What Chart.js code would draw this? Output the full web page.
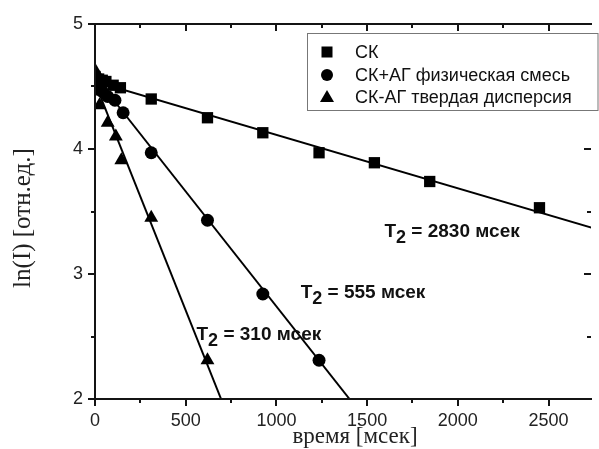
<!DOCTYPE html>
<html><head><meta charset="utf-8">
<script src="https://cdn.jsdelivr.net/npm/chart.js@4/dist/chart.umd.min.js"></script>
<style>html,body{margin:0;padding:0;background:#fff;}#wrap{width:599px;height:449px;position:relative;}</style>
</head><body><div id="wrap"><canvas id="c"></canvas></div>
<script>
// ---- data ----
const seriesNames = ["СК", "СК+АГ физическая смесь", "СК-АГ твердая дисперсия"];
const timeSK  = [0, 20, 40, 60, 100, 140, 310, 620, 925, 1235, 1540, 1845, 2450];
const lnSK    = [4.58, 4.56, 4.55, 4.54, 4.51, 4.49, 4.40, 4.25, 4.13, 3.97, 3.89, 3.74, 3.53];
const timeMix = [0, 20, 40, 70, 110, 155, 310, 620, 925, 1235];
const lnMix   = [4.56, 4.50, 4.46, 4.42, 4.39, 4.29, 3.97, 3.43, 2.84, 2.31];
const timeDisp = [0, 10, 25, 70, 115, 145, 310, 620];
const lnDisp   = [4.63, 4.46, 4.35, 4.21, 4.10, 3.91, 3.45, 2.31];
// fitted lines (end points)
const fitSKx = [0, 2740],  fitSKy = [4.54, 3.37];
const fitMixx = [0, 1403], fitMixy = [4.58, 2.0];
const fitDispx = [0, 695], fitDispy = [4.53, 2.0];
// annotations
const t2Values = ["2830", "555", "310"];
const t2AnchorX = [1590, 1128, 554];
const t2AnchorY = [3.296, 2.808, 2.472];
const xTickValues = [0, 500, 1000, 1500, 2000, 2500];
const yTickValues = [2, 3, 4, 5];
const xMinorStep = 250, yMinorStep = 0.5;
const xTitle = "время [мсек]";
const yTitle = "ln(I) [отн.ед.]";

const pts = (xs, ys) => xs.map((x, i) => ({x: x, y: ys[i]}));

const SANS = "'Liberation Sans', Arial, sans-serif";
const SERIF = "'Liberation Serif', 'Times New Roman', serif";
const AX = 'rgb(20,20,20)';

const dbg = {
  id: 'dbg',
  afterDraw(chart) {
    const ctx = chart.ctx;
    const x = chart.scales.x, y = chart.scales.y;
    const L = Math.round(x.getPixelForValue(x.min)), R = Math.round(x.getPixelForValue(x.max));
    const T = Math.round(y.getPixelForValue(y.max)), B = Math.round(y.getPixelForValue(y.min));
    ctx.save();
    ctx.fillStyle = AX;
    ctx.fillRect(L - 1, T - 1, R - L + 2, 2);
    ctx.fillRect(L - 1, T - 1, 2, B - T + 2);
    ctx.fillRect(L - 1, B - 1, R - L + 2, 2);
    const nx = Math.floor(x.max / xMinorStep);
    for (let k = 0; k <= nx; k++) {
      const px = Math.round(x.getPixelForValue(k * xMinorStep));
      const len = (k % 2 === 0) ? 7 : 4;
      ctx.fillRect(px - 1, B, 2, len);
      ctx.fillRect(px - 1, T, 2, len);
    }
    const ny = Math.round((y.max - y.min) / yMinorStep);
    for (let k = 0; k <= ny; k++) {
      const py = Math.round(y.getPixelForValue(y.min + k * yMinorStep));
      const len = (k % 2 === 0) ? 7 : 4;
      ctx.fillRect(L - len, py - 1, len, 2);
      ctx.fillRect(R - len, py - 1, len, 2);
    }
    ctx.restore();

    // axis titles
    ctx.save();
    ctx.fillStyle = '#222';
    ctx.font = "23px " + SERIF;
    ctx.textAlign = 'center';
    ctx.textBaseline = 'alphabetic';
    ctx.fillText(xTitle, 355, 443);
    ctx.font = "25px " + SERIF;
    ctx.translate(30, 218);
    ctx.rotate(-Math.PI / 2);
    ctx.fillText(yTitle, 0, 0);
    ctx.restore();

    // annotations
    ctx.save();
    ctx.fillStyle = '#111';
    ctx.textBaseline = 'alphabetic';
    ctx.textAlign = 'left';
    t2Values.forEach((val, i) => {
      let px = x.getPixelForValue(t2AnchorX[i]) + 1;
      const py = y.getPixelForValue(t2AnchorY[i]);
      ctx.font = "bold 19px " + SANS;
      ctx.fillText("T", px, py);
      px += ctx.measureText("T").width;
      ctx.font = "bold 18px " + SANS;
      ctx.fillText("2", px, py + 6);
      px += ctx.measureText("2").width;
      ctx.font = "bold 19px " + SANS;
      ctx.fillText(" = " + val + " мсек", px, py);
    });
    ctx.restore();

    // legend
    ctx.save();
    ctx.fillStyle = '#fff';
    ctx.fillRect(307.5, 33.5, 290.5, 77);
    ctx.strokeStyle = '#777';
    ctx.lineWidth = 1;
    ctx.strokeRect(307.5, 33.5, 290.5, 77);
    ctx.fillStyle = '#000';
    const lx = 327, ly = [52, 75, 97];
    ctx.fillRect(lx - 5.5, ly[0] - 5.5, 11, 11);
    ctx.beginPath(); ctx.arc(lx, ly[1], 6, 0, Math.PI * 2); ctx.fill();
    ctx.beginPath();
    ctx.moveTo(lx, ly[2] - 7); ctx.lineTo(lx + 7, ly[2] + 5); ctx.lineTo(lx - 7, ly[2] + 5); ctx.closePath(); ctx.fill();
    ctx.fillStyle = '#111';
    ctx.font = "18px " + SANS;
    ctx.textBaseline = 'middle';
    ctx.textAlign = 'left';
    seriesNames.forEach((n, i) => ctx.fillText(n, 355, ly[i] + 1));
    ctx.restore();
  }
};

const lineDs = (xs, ys) => ({
  data: pts(xs, ys), showLine: true, borderColor: '#000',
  borderWidth: 2, pointRadius: 0, fill: false, order: 2
});
const markDs = (label, xs, ys, style, r) => ({
  label: label, data: pts(xs, ys), pointStyle: style,
  pointRadius: r, backgroundColor: '#000', borderColor: '#000', borderWidth: 0, order: 1
});

new Chart(document.getElementById('c'), {
  type: 'scatter',
  data: {
    datasets: [
      lineDs(fitSKx, fitSKy),
      lineDs(fitMixx, fitMixy),
      lineDs(fitDispx, fitDispy),
      markDs(seriesNames[0], timeSK, lnSK, 'rect', 8),
      markDs(seriesNames[1], timeMix, lnMix, 'circle', 6.5),
      markDs(seriesNames[2], timeDisp, lnDisp, 'triangle', 8)
    ]
  },
  options: {
    responsive: true, maintainAspectRatio: false, animation: false,
    layout: {padding: {top: 24, right: 0, left: 0, bottom: 0}},
    plugins: {legend: {display: false}, tooltip: {enabled: false}},
    scales: {
      x: {
        type: 'linear', min: 0, max: 2734,
        afterFit: s => { s.height = 50; },
        afterBuildTicks: s => { s.ticks = xTickValues.map(v => ({value: v})); },
        grid: {display: false}, border: {display: true, color: AX, width: 2},
        ticks: {font: {family: SANS, size: 18}, color: '#222', padding: 3, maxRotation: 0,
                callback: v => String(v)}
      },
      y: {
        type: 'linear', min: 2, max: 5,
        afterFit: s => { s.width = 95; },
        afterBuildTicks: s => { s.ticks = yTickValues.map(v => ({value: v})); },
        grid: {display: false}, border: {display: true, color: AX, width: 2},
        ticks: {font: {family: SANS, size: 18}, color: '#222', padding: 4,
                callback: v => String(v)}
      }
    }
  },
  plugins: [dbg]
});
</script>
</body></html>
